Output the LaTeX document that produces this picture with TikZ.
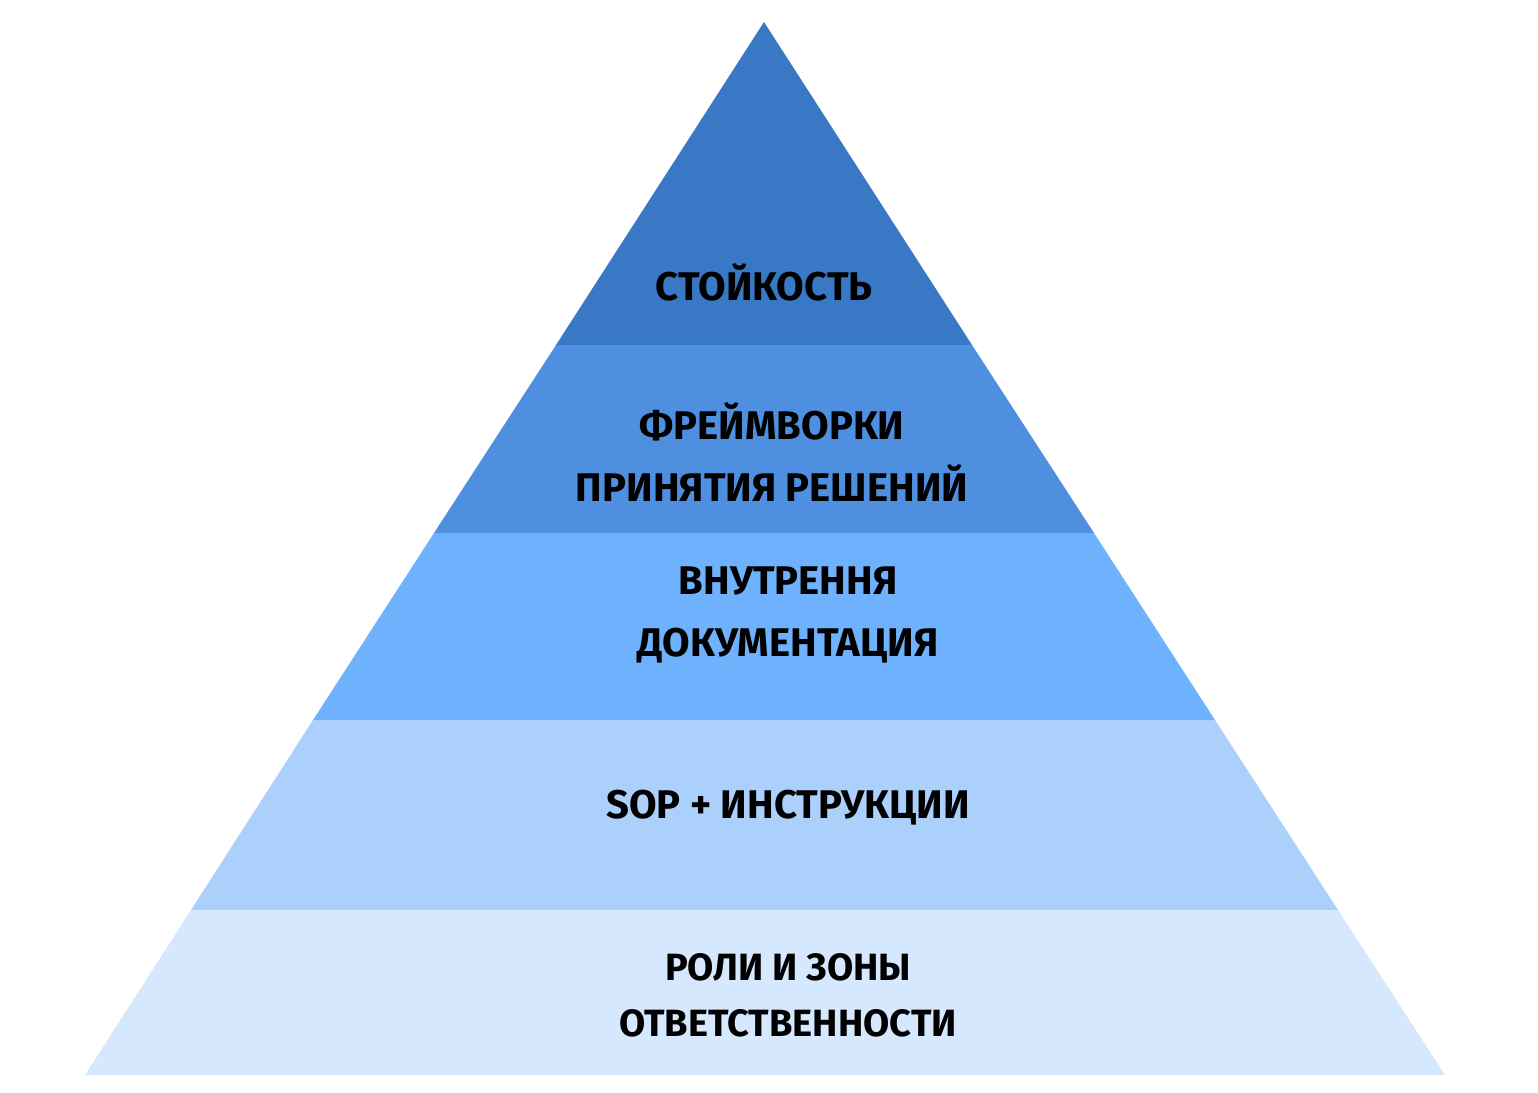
\documentclass[tikz,border=0pt]{standalone}
\usepackage{fontspec}
\setmainfont{Fira Sans}
\definecolor{c1}{HTML}{3878C5}
\definecolor{c2}{HTML}{4F8FDF}
\definecolor{c3}{HTML}{6EB1FD}
\definecolor{c4}{HTML}{AAD0FB}
\definecolor{c5}{HTML}{D5E8FD}
\tikzset{lbl/.style={font=\fontsize{40}{62}\selectfont\bfseries, align=center, text=black, inner sep=0pt}}
\begin{document}
\begin{tikzpicture}[x=1pt,y=-1pt]
\useasboundingbox (0,0) rectangle (1538,1092);
\fill[c1] (764,22) -- (556,345) -- (972,345) -- cycle;
\fill[c2] (556,345) -- (434,533) -- (1094,533) -- (972,345) -- cycle;
\fill[c3] (434,533) -- (313,720) -- (1215,720) -- (1094,533) -- cycle;
\fill[c4] (313,720) -- (191,910) -- (1338,910) -- (1215,720) -- cycle;
\fill[c5] (191,910) -- (85,1075) -- (1445,1075) -- (1338,910) -- cycle;
\node[lbl] (t1) at (764,282) {СТОЙКОСТЬ};
\node[lbl] (t2) at (772,452) {ФРЕЙМВОРКИ\\ПРИНЯТИЯ РЕШЕНИЙ};
\node[lbl] (t3) at (788,615) {ВНУТРЕННЯ\\ДОКУМЕНТАЦИЯ};
\node[lbl] (t4) at (788,808) {SOP + ИНСТРУКЦИИ};
\node[lbl,font=\fontsize{38}{56}\selectfont\bfseries] (t5) at (788,995) {РОЛИ И ЗОНЫ\\ОТВЕТСТВЕННОСТИ};
\end{tikzpicture}
\end{document}
